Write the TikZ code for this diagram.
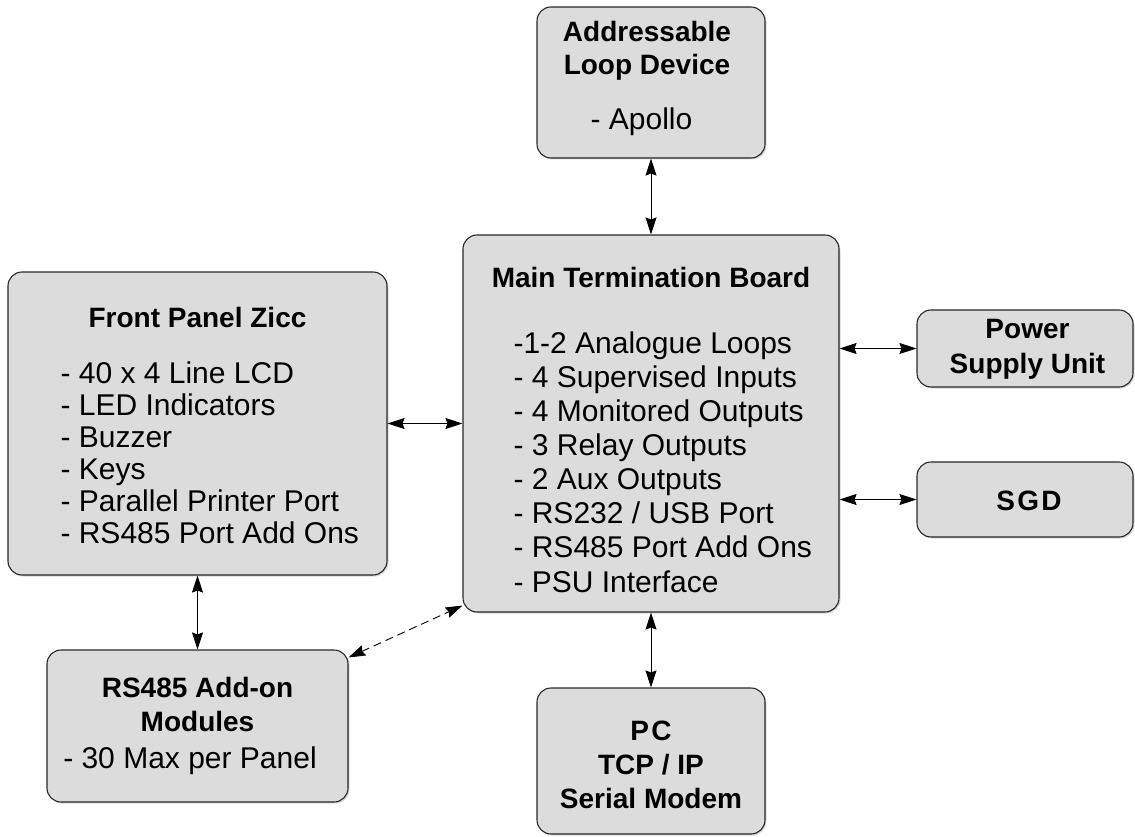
\documentclass[tikz,border=0pt]{standalone}
\usepackage{fontspec}
\setmainfont{Liberation Sans}
\usepackage{xcolor}
\usepackage{tikz}
\definecolor{boxgrey}{RGB}{220,220,220}
\definecolor{edgegrey}{RGB}{40,40,40}
\usetikzlibrary{arrows.meta,shadows}

\tikzset{
    unit/.style={draw=edgegrey, fill=boxgrey, line width=1.1pt, rounded corners=14pt,
        inner sep=0pt, drop shadow={shadow xshift=1.5pt, shadow yshift=-1.5pt, opacity=0.3}},
    head/.style={font=\fontsize{28}{34}\selectfont\bfseries, align=center, anchor=base},
    items/.style={font=\fontsize{30}{34.1}\selectfont, align=left, anchor=base west},
    link/.style={line width=0.9pt, {Stealth[length=17pt,width=11pt,inset=2pt]}-{Stealth[length=17pt,width=11pt,inset=2pt]}}
}

\begin{document}
\begin{tikzpicture}[x=1pt, y=-1pt]
    \useasboundingbox (0,0) rectangle (1135,837);

    % Boxes
    \node[unit, minimum width=228, minimum height=151] (addr) at (651,82.5) {};
    \node[unit, minimum width=376, minimum height=377] (main) at (651,423.5) {};
    \node[unit, minimum width=379, minimum height=303] (front) at (197.5,423.5) {};
    \node[unit, minimum width=301, minimum height=152] (rs) at (197.5,726) {};
    \node[unit, minimum width=228, minimum height=146] (pc) at (651,761) {};
    \node[unit, minimum width=216, minimum height=77] (psu) at (1025,348.5) {};
    \node[unit, minimum width=216, minimum height=75] (sgd) at (1025,499.5) {};

    % Box texts (base = baseline of the last line)
    \node[head, font=\fontsize{28}{33}\selectfont\bfseries] (addrtitle) at (647,75) {Addressable\\Loop Device};
    \node[items, anchor=base] (addrlist) at (641.5,130) {- Apollo};
    \node[head] (maintitle) at (651,287) {Main Termination Board};
    \node[items] (mainlist) at (510,592) {-1-2 Analogue Loops\\- 4 Supervised Inputs\\- 4 Monitored Outputs\\- 3 Relay Outputs\\- 2 Aux Outputs\\- RS232 / USB Port\\- RS485 Port Add Ons\\- PSU Interface};
    \node[head] (fronttitle) at (197.5,327) {Front Panel Zicc};
    \node[items, font=\fontsize{30}{32}\selectfont] (frontlist) at (57,543) {- 40 x 4 Line LCD\\- LED Indicators\\- Buzzer\\- Keys\\- Parallel Printer Port\\- RS485 Port Add Ons};
    \node[head] (rstitle) at (197.5,731) {RS485 Add-on\\Modules};
    \node[items, anchor=base] (rslist) at (190,768) {- 30 Max per Panel};
    \node[head] (pctitle) at (651,808) {{\addfontfeature{LetterSpace=8}PC}\\TCP / IP\\Serial Modem};
    \node[head, font=\fontsize{28}{35}\selectfont\bfseries] (psutitle) at (1027.5,373) {Power\\Supply Unit};
    \node[head] (sgdtitle) at (1029,510) {\addfontfeature{LetterSpace=8}SGD};

    % Connections
    \draw[link] (addr.south) -- (main.north);
    \draw[link] (front.east) -- (main.west);
    \draw[link] (main.east |- psu.west) -- (psu.west);
    \draw[link] (main.east |- sgd.west) -- (sgd.west);
    \draw[link] (main.south) -- (pc.north);
    \draw[link] (front.south) -- (rs.north);
    \draw[link, dash pattern=on 8pt off 5pt] ([yshift=-8pt]rs.north east) -- ([yshift=7pt]main.south west);
\end{tikzpicture}
\end{document}
